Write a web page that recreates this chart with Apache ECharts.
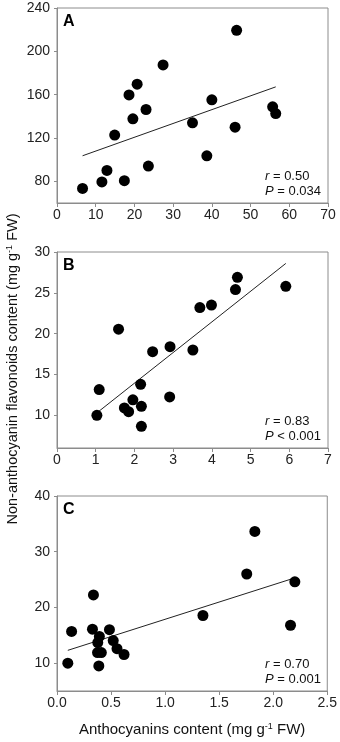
<!DOCTYPE html>
<html>
<head>
<meta charset="utf-8">
<script src="https://cdn.jsdelivr.net/npm/echarts@6/dist/echarts.min.js"></script>
<style>
  html, body { margin: 0; padding: 0; background: #fff; }
  #chart { width: 340px; height: 742px; }
</style>
</head>
<body>
<div id="chart"></div>
<script type="text/javascript">
// panel A
var aX = [6.6, 11.6, 12.9, 14.9, 17.4, 18.6, 19.6, 20.7, 23.0, 23.6, 27.4, 35.0, 38.7, 40.0, 46.0, 46.4, 55.7, 56.5];
var aY = [73.5, 79.4, 90.1, 122.7, 80.6, 159.8, 137.7, 169.7, 146.3, 94.1, 187.5, 134.0, 103.6, 155.2, 130.0, 219.4, 148.8, 142.6];
var aFitX = [6.6, 56.5];
var aFitY = [103.6, 167.2];
var aYTicks = [80, 120, 160, 200, 240];

// panel B
var bX = [1.03, 1.09, 1.59, 1.74, 1.85, 1.96, 2.16, 2.18, 2.18, 2.47, 2.92, 2.91, 3.51, 3.69, 3.99, 4.61, 4.66, 5.91];
var bY = [10.0, 13.15, 20.55, 10.9, 10.45, 11.9, 13.8, 11.1, 8.65, 17.8, 18.4, 12.25, 18.0, 23.2, 23.5, 25.4, 26.9, 25.8];
var bFitX = [1.03, 5.91];
var bFitY = [10.3, 28.6];
var bYTicks = [10, 15, 20, 25, 30];

// panel C
var cX = [0.10, 0.135, 0.337, 0.328, 0.377, 0.392, 0.375, 0.41, 0.387, 0.485, 0.52, 0.555, 0.62, 1.35, 1.755, 1.83, 2.16, 2.20];
var cY = [10.0, 15.7, 22.25, 16.1, 13.7, 14.8, 11.9, 11.9, 9.5, 16.0, 14.05, 12.6, 11.55, 18.55, 26.0, 33.65, 16.8, 24.6];
var cFitX = [0.10, 2.20];
var cFitY = [12.3, 25.3];
var cYTicks = [10, 20, 30, 40];

var stats = [['0.50', '= 0.034'], ['0.83', '< 0.001'], ['0.70', '= 0.001']];
var letters = ['A', 'B', 'C'];

var grids = [
  {left: 57, right: 12, top: 8, height: 195},
  {left: 57, right: 12, top: 252, height: 196},
  {left: 57, right: 12, top: 496, height: 195}
];

function pairs(xs, ys) {
  return xs.map(function (x, i) { return [x, ys[i]]; });
}

var axisGray = '#8c8c8c';
var font = 'Liberation Sans, Arial, sans-serif';

function xAxisOf(i, min, max, interval, fmt) {
  return {
    type: 'value', gridIndex: i, min: min, max: max, interval: interval,
    axisLine: {show: true, lineStyle: {color: axisGray, width: 1}},
    axisTick: {show: true, inside: false, length: 4, lineStyle: {color: axisGray}},
    axisLabel: {color: '#222', fontSize: 14, fontFamily: font, margin: 5, formatter: fmt},
    splitLine: {show: false}
  };
}

function yAxisOf(i, min, max, ticks) {
  return {
    type: 'value', gridIndex: i, min: min, max: max,
    axisLine: {show: true, lineStyle: {color: axisGray, width: 1}},
    axisTick: {show: true, length: 3, customValues: ticks, lineStyle: {color: axisGray}},
    axisLabel: {color: '#222', fontSize: 14, fontFamily: font, margin: 7, customValues: ticks},
    splitLine: {show: false}
  };
}

var xs = [aX, bX, cX], ys = [aY, bY, cY];
var fx = [aFitX, bFitX, cFitX], fy = [aFitY, bFitY, cFitY];

var series = [];
for (var i = 0; i < 3; i++) {
  series.push({
    type: 'line', xAxisIndex: i, yAxisIndex: i, data: pairs(fx[i], fy[i]),
    symbol: 'none', lineStyle: {color: '#222', width: 1}, silent: true, z: 2
  });
  series.push({
    type: 'scatter', xAxisIndex: i, yAxisIndex: i, data: pairs(xs[i], ys[i]),
    symbolSize: 11, itemStyle: {color: '#000', opacity: 1}, z: 3
  });
}

var graphic = [];
grids.forEach(function (g, i) {
  var bottom = g.top + g.height;
  graphic.push({
    type: 'text', left: 63, top: g.top + 6,
    style: {text: letters[i], font: 'bold 16px ' + font, fill: '#000'}
  });
  graphic.push({
    type: 'text', right: 19, top: bottom - 34,
    style: {
      text: '{i|r} = ' + stats[i][0] + '\n{i|P} ' + stats[i][1],
      font: '13px ' + font, fill: '#111', align: 'right', lineHeight: 15,
      rich: {i: {fontStyle: 'italic', fontSize: 13, fontFamily: font}}
    }
  });
});

// y axis title
graphic.push({
  type: 'text', x: 13, y: 369, rotation: Math.PI / 2,
  style: {
    text: 'Non-anthocyanin flavonoids content (mg g{s|-1} FW)',
    font: '14.5px ' + font, fill: '#111', align: 'center', verticalAlign: 'middle',
    rich: {s: {fontSize: 9, fontFamily: font, verticalAlign: 'top', padding: [0, 0, 6, 0]}}
  }
});

var myChart = echarts.init(document.getElementById('chart'), null, {renderer: 'canvas'});
var option = {
  animation: false,
  backgroundColor: '#fff',
  grid: grids.map(function (g) {
    return {left: g.left, right: g.right, top: g.top, height: g.height,
      show: true, borderColor: axisGray, borderWidth: 1, backgroundColor: 'transparent'};
  }),
  xAxis: [
    xAxisOf(0, 0, 70, 10),
    xAxisOf(1, 0, 7, 1),
    Object.assign(xAxisOf(2, 0, 2.5, 0.5, function (v) { return v.toFixed(1); }), {
      name: 'Anthocyanins content (mg g{s|-1} FW)',
      nameLocation: 'middle', nameGap: 31,
      nameTextStyle: {fontSize: 15, fontFamily: font, color: '#111',
        rich: {s: {fontSize: 9, fontFamily: font, padding: [0, 0, 6, 0]}}}
    })
  ],
  yAxis: [
    yAxisOf(0, 60, 240, aYTicks),
    yAxisOf(1, 6, 30, bYTicks),
    yAxisOf(2, 5, 40, cYTicks)
  ],
  graphic: graphic,
  series: series
};
myChart.setOption(option);
</script>
</body>
</html>
